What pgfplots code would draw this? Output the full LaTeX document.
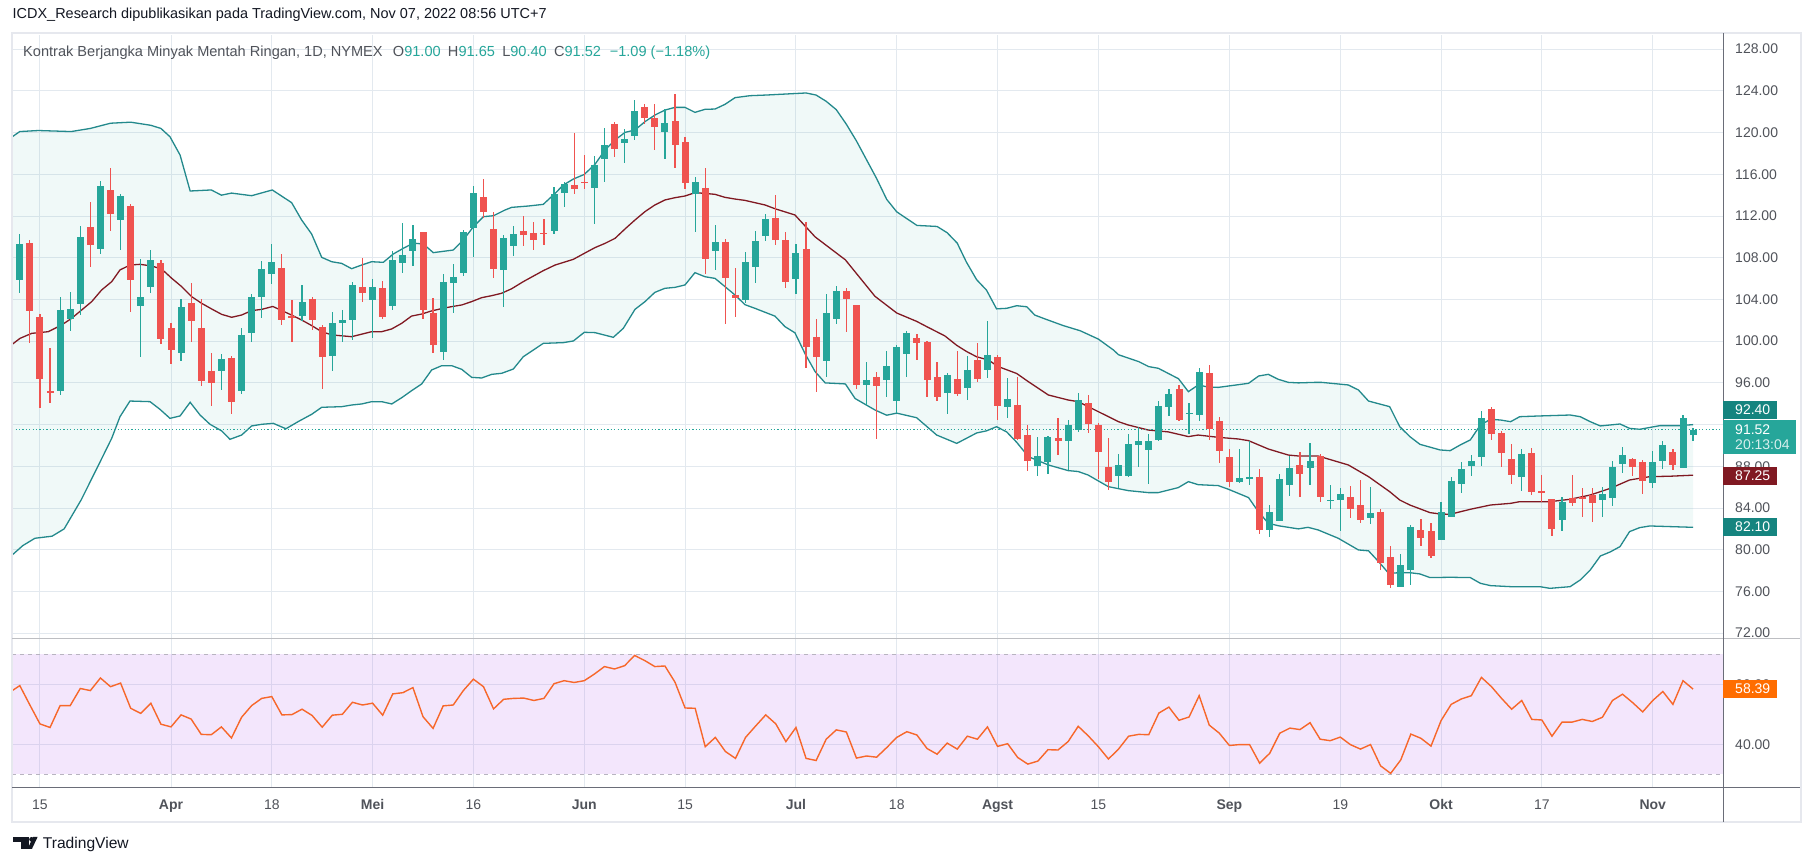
\documentclass[border=0pt]{standalone}
\usepackage{fontspec}
\setmainfont{Liberation Sans}
\usepackage{graphicx}
\usepackage{pgfplots}
\usepackage{pgfplotstable}
\pgfplotsset{compat=1.18}

\definecolor{cup}{HTML}{26A69A}
\definecolor{cdn}{HTML}{EF5350}
\definecolor{bandline}{HTML}{23898C}
\definecolor{basis}{HTML}{801922}
\definecolor{gridc}{HTML}{E3E9EF}
\definecolor{rsiline}{HTML}{F7672A}
\definecolor{rsifill}{RGB}{175,88,235}
\definecolor{txt}{HTML}{131722}
\definecolor{axtxt}{HTML}{50535A}
\definecolor{darkteal}{HTML}{15847F}
\definecolor{frame}{HTML}{E6E8EE}
\definecolor{sep}{HTML}{6A6D78}
\definecolor{dashc}{HTML}{B8B4C0}
\definecolor{orangebox}{HTML}{FF6D00}

\pgfplotstableread{
i O H L C
0 105.9 110.3 104.6 109.3
4 95.26 104.2 94.8 103.0
5 102.1 104.7 101.0 103.1
6 103.6 111.0 102.5 110.0
8 108.8 115.4 108.4 114.9
10 111.65 114.1 108.7 113.9
12 103.4 107.9 98.5 104.2
13 105.2 108.7 104.6 107.8
16 98.9 104.0 98.1 103.3
20 97.1 98.8 95.3 98.3
22 95.2 101.3 94.9 100.6
23 100.8 104.5 99.9 104.2
24 104.2 107.7 102.2 106.9
25 106.4 109.3 105.5 107.6
28 102.45 105.4 101.9 103.8
31 98.6 102.8 97.1 101.7
32 101.7 103.0 99.9 102.0
33 102.0 105.7 100.1 105.4
35 103.98 105.96 100.34 105.2
37 103.4 108.65 103.0 107.8
38 107.53 111.3 106.5 108.3
39 108.68 111.14 107.24 109.8
42 99.0 106.4 98.2 105.7
43 105.6 107.4 102.7 106.15
44 106.57 110.66 106.28 110.47
45 110.9 114.9 108.1 114.2
48 106.86 110.2 103.3 109.89
49 109.16 111.04 108.17 110.28
53 110.6 114.8 110.3 114.1
54 114.2 115.26 112.9 115.07
57 114.72 117.75 111.27 116.89
58 117.5 120.47 115.3 118.81
60 119.03 120.34 117.11 119.38
61 119.67 123.12 119.32 122.07
64 120.09 122.26 117.5 120.92
67 114.08 115.74 110.5 115.26
69 108.68 111.14 106.86 109.5
72 103.98 108.55 103.7 107.59
73 107.15 110.56 105.6 109.6
74 110.12 112.2 109.6 111.7
77 105.99 109.32 104.56 108.46
80 98.13 104.5 96.6 102.7
81 102.16 105.3 101.6 104.8
84 95.83 98.0 93.85 96.28
86 96.31 99.06 94.68 97.62
87 94.3 99.63 93.15 99.44
88 98.8 100.98 96.6 100.8
92 95.06 96.95 93.05 96.76
94 95.54 98.58 94.4 97.24
96 97.27 101.93 96.5 98.68
98 93.72 96.47 92.67 94.46
101 88.07 90.81 87.1 88.99
102 88.42 90.9 87.3 90.81
104 90.46 92.44 87.65 91.96
105 91.48 95.03 91.29 94.36
109 87.11 89.18 85.96 88.13
110 87.11 91.1 87.0 90.14
111 90.0 91.77 87.97 90.43
112 89.6 91.1 86.34 90.43
113 90.52 94.27 90.46 93.79
114 93.72 95.42 92.86 94.94
116 93.05 94.07 91.13 93.15
117 92.95 97.43 92.34 97.05
121 86.53 89.66 86.43 86.88
122 86.85 90.43 86.24 86.95
124 81.93 84.29 81.26 83.62
125 82.79 87.27 82.79 86.79
126 86.24 88.99 85.19 87.84
128 87.84 90.27 86.24 88.51
130 84.7 86.21 83.94 84.8
131 84.77 85.92 81.83 85.35
134 83.08 86.02 82.5 83.53
137 76.47 79.6 76.47 78.54
138 78.06 82.38 76.66 82.19
141 80.97 84.58 80.97 83.62
142 83.18 86.98 83.18 86.6
143 86.34 88.42 85.48 87.75
144 88.06 89.12 87.1 88.51
145 88.93 93.31 88.06 92.64
149 87.01 89.66 85.67 89.18
153 82.89 85.06 81.83 84.58
157 84.81 86.02 83.18 85.35
158 85.0 88.51 84.23 87.94
159 88.26 89.85 87.39 89.09
162 86.44 89.47 85.96 88.42
163 88.54 90.43 87.78 90.05
165 87.87 92.96 87.87 92.64
166 91.00 91.65 90.40 91.52
}\upc

\pgfplotstableread{
i O H L C
-1 110.3 110.3 106.0 106.0
1 109.4 109.7 99.8 102.9
2 102.3 102.6 93.6 96.4
3 95.2 99.3 94.1 95.0
7 110.95 113.3 107.1 109.2
9 114.5 116.6 110.6 112.2
11 113.0 113.2 102.8 105.9
14 107.5 107.8 99.7 100.2
15 101.3 101.7 97.8 99.2
17 103.7 105.6 99.95 101.9
18 101.3 104.0 95.7 96.2
19 97.1 98.9 93.8 96.0
21 98.4 98.6 93.0 94.2
26 107.0 108.4 101.6 102.0
27 102.4 103.95 99.95 102.2
29 104.05 104.2 101.1 102.0
30 101.4 101.55 95.4 98.5
34 105.2 107.97 103.76 104.65
36 105.1 105.77 102.16 102.35
40 110.47 110.47 102.16 103.02
41 102.7 104.14 98.9 99.67
46 113.82 115.55 111.78 112.35
47 110.76 112.39 106.09 106.95
50 110.56 112.0 109.16 110.21
51 110.4 111.4 108.7 109.7
52 110.4 111.7 109.25 110.3
55 114.97 119.96 114.1 114.59
56 115.3 117.85 114.62 115.2
59 120.82 121.0 117.69 118.46
62 122.45 122.74 120.85 121.43
63 121.4 122.74 118.36 120.57
65 121.1 123.7 116.64 118.84
66 119.1 119.58 114.62 115.2
68 114.69 116.6 106.47 107.91
70 109.5 109.8 101.6 106.09
71 104.43 107.05 102.35 104.17
75 111.8 114.0 109.25 109.73
76 109.7 110.47 105.13 105.7
78 108.84 111.43 97.46 99.47
79 100.4 102.1 95.16 98.5
82 104.8 105.1 100.9 104.08
83 103.47 103.47 95.45 95.83
85 96.57 97.05 90.65 95.73
89 100.3 100.7 98.23 99.86
90 99.92 100.02 94.68 96.31
91 96.57 98.0 94.3 94.68
93 96.38 99.06 94.78 94.97
95 98.2 99.8 96.12 96.4
97 98.5 98.68 92.48 93.8
99 93.88 96.57 90.56 90.65
100 91.0 91.96 87.58 88.54
103 90.72 92.63 89.12 90.46
106 94.07 94.84 91.23 92.06
107 91.96 92.15 86.82 89.4
108 87.94 90.72 85.76 86.53
115 95.42 95.8 92.34 92.44
118 96.95 97.72 90.56 91.58
119 92.34 92.73 88.35 89.5
120 88.9 89.66 86.05 86.53
123 86.98 87.74 81.55 81.93
127 88.13 89.38 85.09 87.3
129 88.99 89.18 84.61 85.09
132 85.06 86.1 83.08 83.94
133 84.29 86.69 82.57 82.89
135 83.62 83.91 78.1 78.76
136 79.31 80.36 76.37 76.66
139 81.9 82.95 80.39 81.16
140 81.8 82.57 79.24 79.43
146 93.5 93.69 90.53 91.13
147 91.2 91.39 87.97 89.31
148 88.7 90.14 86.34 87.2
150 89.28 89.76 85.29 85.57
151 85.63 87.17 84.61 85.48
152 84.87 84.87 81.35 82.03
154 84.97 87.17 84.23 84.52
155 85.0 85.92 83.18 84.95
156 85.29 85.92 82.7 84.52
160 88.7 88.8 87.1 87.9
161 88.42 88.61 85.38 86.56
164 89.38 89.66 87.68 88.16
}\dnc

\pgfplotstableread{
x y
-0.75 119.6
0 120.1
1.84 120.2
5.1 120.1
7 120.4
9 120.9
11 121.0
13 120.7
14 120.4
14.9 119.6
15.9 117.85
16.9 114.4
19.0 114.5
20.0 114.0
21.0 114.2
23.0 113.95
25.05 114.5
26.97 113.28
27.96 111.62
28.95 110.28
29.95 108.04
30.94 107.62
31.93 107.46
32.92 106.95
33.91 107.3
34.9 107.62
36.06 107.56
37.05 108.36
38.04 108.9
39.03 109.4
40.03 109.32
41.02 108.49
43.0 108.74
44.0 109.7
45.0 110.98
46.0 111.94
47.0 112.03
48.14 112.58
48.79 112.83
50.44 112.96
51.93 113.12
53.1 114.17
53.92 114.97
54.92 115.55
56.0 115.99
57.06 116.96
58.06 118.33
59.05 119.29
60.04 120.02
61.03 120.25
62.02 121.05
63.0 121.68
64.0 122.16
65.0 122.42
65.99 122.42
66.98 121.94
67.97 122.23
68.97 122.26
69.96 122.71
70.95 123.35
72.45 123.54
74 123.6
76 123.7
78 123.8
79 123.6
80 123.0
81 122.2
82 120.8
83 119.2
84 117.4
85 115.6
86 113.6
87.0 112.4
89.0 111.1
91.0 111.0
92.0 110.4
93.0 109.4
93.9 107.6
94.92 105.9
95.9 104.9
96.9 103.1
97.9 103.15
98.9 103.4
99.9 103.3
100.7 102.5
101.8 102.1
103.5 101.5
105.2 101.0
107 100.2
108.5 99.15
109.0 98.7
111.0 98.04
112.0 97.56
112.95 97.4
114.95 96.4
115.93 95.16
116.9 95.8
117.9 95.6
118.9 95.57
119.9 95.7
121.9 95.96
122.9 96.66
123.86 96.82
124.86 96.34
125.85 96.05
126.84 96.0
128.5 96.05
129.15 96.05
131.8 95.8
132.8 95.32
133.8 94.26
135.9 93.72
136.9 91.8
137.9 90.85
138.9 90.11
140.9 89.57
141.9 89.5
142.9 90.05
143.9 90.53
144.9 91.96
145.9 92.51
146.9 92.44
147.9 92.28
148.8 92.76
150.8 92.83
153.8 92.92
154.8 92.76
155.8 92.28
156.8 91.87
158.75 92.06
159.7 91.64
160.7 91.55
162.7 91.9
164.7 91.9
166 92.0
}\bbup

\pgfplotstableread{
x y
-0.75 99.7
0.02 100.27
1.18 100.75
2.83 100.91
4.15 101.55
5.14 102.19
7.13 103.79
8.12 104.91
9.12 105.71
9.94 106.83
10.93 107.3
11.93 107.37
13.08 107.21
14.07 106.92
15.07 106.03
16.06 105.23
17.05 104.27
18.04 103.63
19.03 103.09
20.03 102.57
21.02 102.29
22.01 102.51
23.0 102.93
24.0 103.05
25.1 103.33
26.97 102.5
27.96 102.03
28.95 101.5
29.95 100.91
30.94 100.6
32.92 100.43
34.9 100.91
35.9 100.91
36.89 101.17
37.88 101.71
38.87 102.41
39.86 102.6
40.85 102.9
41.84 103.12
42.83 103.31
43.83 103.47
44.82 103.79
45.81 104.17
46.8 104.36
47.79 104.59
48.8 105.03
49.95 105.71
51.93 106.76
53.1 107.3
54.92 107.85
56.0 108.42
57.06 108.97
58.06 109.38
59.05 109.86
60.04 110.76
61.03 111.62
62.02 112.42
63.0 113.06
64.0 113.54
65.0 113.76
65.99 113.92
66.98 114.24
67.97 114.17
68.97 114.08
69.96 113.79
70.95 113.63
71.94 113.5
73.93 113.06
74.92 112.7
76.9 112.1
78.9 110.0
81.9 107.8
84.84 104.3
87.0 102.7
88.97 101.9
89.96 101.4
91.78 100.5
92.95 99.6
93.94 99.0
94.93 98.5
96.08 98.2
97.08 97.56
98.9 96.9
100.05 96.12
102.04 94.84
104.0 94.36
105.0 94.2
107.0 93.24
109.0 92.28
109.97 91.96
111.95 91.48
113.94 91.3
115.93 90.85
116.9 91.0
118.9 90.78
120.9 90.62
121.9 90.46
123.86 89.66
125.85 89.08
126.84 88.99
128.8 88.99
131.8 88.13
133.8 87.01
135.9 85.57
136.9 84.77
137.9 84.29
139.9 83.56
140.9 83.43
141.9 83.4
143.9 83.88
145.9 84.29
147.9 84.45
148.8 84.61
151.8 84.61
153.8 84.84
155.8 85.25
157.8 85.89
159.7 86.69
161.7 87.01
163.7 87.05
166 87.15
}\bbmid

\pgfplotstableread{
x y
-0.75 79.5
0.3 80.4
1.5 81.1
3.2 81.3
4.4 82.0
6.1 84.8
7.8 88.1
9.12 90.69
9.94 92.76
10.93 94.26
12.92 94.2
13.9 93.47
14.9 92.6
15.9 92.83
16.9 94.14
17.88 92.92
18.87 92.03
20.03 91.39
20.85 90.59
22.01 91.0
23.0 91.87
24.0 92.03
25.15 92.12
26.4 91.6
27.64 92.3
28.96 92.99
29.95 93.66
31.94 93.72
32.93 93.88
33.92 93.98
34.91 94.2
35.9 94.2
36.9 93.98
37.89 94.58
38.88 95.26
39.87 95.9
40.86 97.24
41.86 97.65
42.85 97.65
43.84 97.3
44.83 96.53
45.82 96.47
46.82 96.82
47.81 96.92
48.96 97.33
49.95 98.51
51.93 99.79
53.92 99.86
54.92 100.02
56.0 100.85
57.06 100.82
58.88 100.37
59.87 101.23
61.03 103.05
62.02 103.79
63.0 104.68
64.0 105.07
65.0 105.16
65.99 105.39
66.98 106.57
67.97 106.18
68.97 106.02
69.96 105.23
70.95 104.43
71.94 103.5
72.93 103.15
74.92 102.4
75.9 101.4
76.9 100.8
77.9 98.8
78.9 97.08
79.9 96.0
81.9 95.9
82.87 94.5
84.84 93.4
86.0 92.9
87.0 93.1
88.97 92.66
90.96 91.0
92.95 90.2
94.93 91.2
95.9 91.4
96.9 91.8
97.9 91.3
98.9 90.3
100.05 88.93
102.04 88.13
104.0 87.59
105.0 87.5
105.97 87.17
107.99 86.05
109.97 85.67
111.95 85.48
112.95 85.48
114.93 85.96
115.93 86.53
116.9 86.24
118.9 86.15
119.9 85.8
121.9 85.0
122.87 83.65
123.86 82.54
124.86 82.3
126.84 82.0
127.8 82.15
128.8 81.9
130.8 81.1
132.8 79.98
133.8 79.9
134.8 78.86
135.8 77.74
136.9 77.8
137.9 77.8
138.9 77.68
139.9 77.33
141.9 77.36
143.9 77.33
144.9 76.78
145.9 76.56
147.9 76.46
150.8 76.46
151.8 76.3
153.8 76.46
154.8 77.1
155.8 78.06
156.8 79.4
157.8 79.8
158.75 80.3
159.7 81.74
160.7 82.12
161.7 82.28
163.7 82.22
166 82.15
}\bblo

% band area: upper band left to right, then lower band right to left
\pgfplotstableread{
x y
-0.75 119.6
0 120.1
1.84 120.2
5.1 120.1
7 120.4
9 120.9
11 121.0
13 120.7
14 120.4
14.9 119.6
15.9 117.85
16.9 114.4
19.0 114.5
20.0 114.0
21.0 114.2
23.0 113.95
25.05 114.5
26.97 113.28
27.96 111.62
28.95 110.28
29.95 108.04
30.94 107.62
31.93 107.46
32.92 106.95
33.91 107.3
34.9 107.62
36.06 107.56
37.05 108.36
38.04 108.9
39.03 109.4
40.03 109.32
41.02 108.49
43.0 108.74
44.0 109.7
45.0 110.98
46.0 111.94
47.0 112.03
48.14 112.58
48.79 112.83
50.44 112.96
51.93 113.12
53.1 114.17
53.92 114.97
54.92 115.55
56.0 115.99
57.06 116.96
58.06 118.33
59.05 119.29
60.04 120.02
61.03 120.25
62.02 121.05
63.0 121.68
64.0 122.16
65.0 122.42
65.99 122.42
66.98 121.94
67.97 122.23
68.97 122.26
69.96 122.71
70.95 123.35
72.45 123.54
74 123.6
76 123.7
78 123.8
79 123.6
80 123.0
81 122.2
82 120.8
83 119.2
84 117.4
85 115.6
86 113.6
87.0 112.4
89.0 111.1
91.0 111.0
92.0 110.4
93.0 109.4
93.9 107.6
94.92 105.9
95.9 104.9
96.9 103.1
97.9 103.15
98.9 103.4
99.9 103.3
100.7 102.5
101.8 102.1
103.5 101.5
105.2 101.0
107 100.2
108.5 99.15
109.0 98.7
111.0 98.04
112.0 97.56
112.95 97.4
114.95 96.4
115.93 95.16
116.9 95.8
117.9 95.6
118.9 95.57
119.9 95.7
121.9 95.96
122.9 96.66
123.86 96.82
124.86 96.34
125.85 96.05
126.84 96.0
128.5 96.05
129.15 96.05
131.8 95.8
132.8 95.32
133.8 94.26
135.9 93.72
136.9 91.8
137.9 90.85
138.9 90.11
140.9 89.57
141.9 89.5
142.9 90.05
143.9 90.53
144.9 91.96
145.9 92.51
146.9 92.44
147.9 92.28
148.8 92.76
150.8 92.83
153.8 92.92
154.8 92.76
155.8 92.28
156.8 91.87
158.75 92.06
159.7 91.64
160.7 91.55
162.7 91.9
164.7 91.9
166 92.0
166 82.15
163.7 82.22
161.7 82.28
160.7 82.12
159.7 81.74
158.75 80.3
157.8 79.8
156.8 79.4
155.8 78.06
154.8 77.1
153.8 76.46
151.8 76.3
150.8 76.46
147.9 76.46
145.9 76.56
144.9 76.78
143.9 77.33
141.9 77.36
139.9 77.33
138.9 77.68
137.9 77.8
136.9 77.8
135.8 77.74
134.8 78.86
133.8 79.9
132.8 79.98
130.8 81.1
128.8 81.9
127.8 82.15
126.84 82.0
124.86 82.3
123.86 82.54
122.87 83.65
121.9 85.0
119.9 85.8
118.9 86.15
116.9 86.24
115.93 86.53
114.93 85.96
112.95 85.48
111.95 85.48
109.97 85.67
107.99 86.05
105.97 87.17
105.0 87.5
104.0 87.59
102.04 88.13
100.05 88.93
98.9 90.3
97.9 91.3
96.9 91.8
95.9 91.4
94.93 91.2
92.95 90.2
90.96 91.0
88.97 92.66
87.0 93.1
86.0 92.9
84.84 93.4
82.87 94.5
81.9 95.9
79.9 96.0
78.9 97.08
77.9 98.8
76.9 100.8
75.9 101.4
74.92 102.4
72.93 103.15
71.94 103.5
70.95 104.43
69.96 105.23
68.97 106.02
67.97 106.18
66.98 106.57
65.99 105.39
65.0 105.16
64.0 105.07
63.0 104.68
62.02 103.79
61.03 103.05
59.87 101.23
58.88 100.37
57.06 100.82
56.0 100.85
54.92 100.02
53.92 99.86
51.93 99.79
49.95 98.51
48.96 97.33
47.81 96.92
46.82 96.82
45.82 96.47
44.83 96.53
43.84 97.3
42.85 97.65
41.86 97.65
40.86 97.24
39.87 95.9
38.88 95.26
37.89 94.58
36.9 93.98
35.9 94.2
34.91 94.2
33.92 93.98
32.93 93.88
31.94 93.72
29.95 93.66
28.96 92.99
27.64 92.3
26.4 91.6
25.15 92.12
24.0 92.03
23.0 91.87
22.01 91.0
20.85 90.59
20.03 91.39
18.87 92.03
17.88 92.92
16.9 94.14
15.9 92.83
14.9 92.6
13.9 93.47
12.92 94.2
10.93 94.26
9.94 92.76
9.12 90.69
7.8 88.1
6.1 84.8
4.4 82.0
3.2 81.3
1.5 81.1
0.3 80.4
-0.75 79.5
}\bbarea

\pgfplotstableread{
x y
-1 57.5
-0.65 58.1
0 59.56
1 53.1
2 46.8
3 45.6
4 52.9
5 52.9
6 58.6
7 57.9
8 62.1
9 59.2
10 60.4
11 52.0
12 50.3
13 53.7
14 46.7
15 45.8
16 49.8
17 48.4
18 43.3
19 43.2
20 45.8
21 42.1
22 49.0
23 52.9
24 55.3
25 55.9
26 49.8
27 49.9
28 51.7
29 49.6
30 45.7
31 49.7
32 50.0
33 54.0
34 53.1
35 53.7
36 49.7
37 56.8
38 57.2
39 58.9
40 49.2
41 45.3
42 52.8
43 53.1
44 57.9
45 61.7
46 59.2
47 51.8
48 55.0
49 55.3
50 55.4
51 54.6
52 55.3
53 60.2
54 61.2
55 60.6
56 61.2
57 63.4
58 65.9
59 65.1
60 66.2
61 69.6
62 67.9
63 65.9
64 66.1
65 60.7
66 52.1
67 52.0
68 39.2
69 42.3
70 37.6
71 35.3
72 42.3
73 46.1
74 49.8
75 46.8
76 40.9
77 45.6
78 35.3
79 34.6
80 41.7
81 44.8
82 44.1
83 35.4
84 36.1
85 35.7
86 38.9
87 42.3
88 44.2
89 43.1
90 38.6
91 36.7
92 40.4
93 38.4
94 42.7
95 41.7
96 45.8
97 39.3
98 40.2
99 35.6
100 33.4
101 34.4
102 38.2
103 38.1
104 40.9
105 46.0
106 42.8
107 39.2
108 35.1
109 38.4
110 42.7
111 43.3
112 43.2
113 50.4
114 52.4
115 48.0
116 49.1
117 56.2
118 46.4
119 43.7
120 39.6
121 39.9
122 39.9
123 33.7
124 37.0
125 43.7
126 45.4
127 44.9
128 47.2
129 41.7
130 41.2
131 42.4
132 39.9
133 38.4
134 39.9
135 32.8
136 30.3
137 34.8
138 43.4
139 42.0
140 39.4
141 47.9
142 53.3
143 55.1
144 56.2
145 62.3
146 59.2
147 55.3
148 51.7
149 54.6
150 48.3
151 48.1
152 42.7
153 47.4
154 47.4
155 48.3
156 47.6
157 49.0
158 54.6
159 56.7
160 53.9
161 50.8
162 54.6
163 57.6
164 53.3
165 61.2
166 58.39
}\rsi

\pgfplotsset{
  tvaxis/.style={
    scale only axis, width=1711pt,
    xmin=-0.744, xmax=169.0,
    axis line style={draw=none},
    major tick length=0pt,
    grid=major,
    major grid style={draw=gridc, line width=1pt},
    xtick={2,15,25,35,45,56,66,77,87,97,107,120,131,141,151,162},
    yticklabel pos=right,
    yticklabel style={anchor=west, inner sep=0pt, xshift=11.7pt,
      font=\fontsize{14}{16}\selectfont, text=axtxt},
    clip=true,
  },
  wick/.style={draw=none, no markers, forget plot,
    error bars/.cd, y dir=both, y explicit, error mark=none,
    error bar style={line width=1.2pt, draw=#1, solid}},
  body/.style={draw=none, no markers, forget plot,
    error bars/.cd, y dir=both, y explicit, error mark=none,
    error bar style={line width=7pt, draw=#1, solid}},
}

\begin{document}
\begin{tikzpicture}[x=1pt,y=1pt]
\fill[white] (0,0) rectangle (1813,866);

% ---------------- main price pane ----------------
\begin{axis}[tvaxis,
  at={(12.3pt,227.7pt)}, anchor=south west,
  height=603.3pt, ymin=71.51, ymax=129.36,
  xticklabels={},
  ytick={72,76,80,84,88,92,96,100,104,108,112,116,120,124,128},
  yticklabels={72.00,76.00,80.00,84.00,88.00,{},96.00,100.00,104.00,108.00,112.00,116.00,120.00,124.00,128.00},
]
\addplot[fill=cup, fill opacity=0.065, draw=none, forget plot] table {\bbarea};
\addplot[bandline, line width=1.3pt, forget plot] table {\bbup};
\addplot[bandline, line width=1.3pt, forget plot] table {\bblo};
\addplot[basis, line width=1.3pt, forget plot] table {\bbmid};
\addplot[cup, line width=1pt, dash pattern=on 1.2pt off 2.2pt, forget plot] coordinates {(-0.744,91.52) (169,91.52)};

\addplot[wick=cdn] table[x=i, y expr={(\thisrow{H}+\thisrow{L})/2}, y error expr={(\thisrow{H}-\thisrow{L})/2}] {\dnc};
\addplot[body=cdn] table[x=i, y expr={(\thisrow{O}+\thisrow{C})/2}, y error expr={max(abs(\thisrow{C}-\thisrow{O})/2,0.06)}] {\dnc};
\addplot[wick=cup] table[x=i, y expr={(\thisrow{H}+\thisrow{L})/2}, y error expr={(\thisrow{H}-\thisrow{L})/2}] {\upc};
\addplot[body=cup] table[x=i, y expr={(\thisrow{O}+\thisrow{C})/2}, y error expr={max(abs(\thisrow{C}-\thisrow{O})/2,0.06)}] {\upc};
\end{axis}

% ---------------- RSI pane ----------------
\begin{axis}[tvaxis,
  at={(12.3pt,78.7pt)}, anchor=south west,
  height=149pt, ymin=25.67, ymax=75.33,
  ytick={40,60}, yticklabels={40.00,60.00},
  xticklabels={15,\textbf{Apr},18,\textbf{Mei},16,\textbf{Jun},15,\textbf{Jul},18,\textbf{Agst},15,\textbf{Sep},19,\textbf{Okt},17,\textbf{Nov}},
  xticklabel style={anchor=base, inner sep=0pt, yshift=-22.7pt,
    font=\fontsize{14}{16}\selectfont, text=axtxt},
]
\addplot[draw=none, fill=rsifill, fill opacity=0.15, forget plot] coordinates {(-0.744,30) (169,30) (169,70) (-0.744,70)};
\addplot[dashc, line width=1pt, dash pattern=on 4pt off 4pt, forget plot] coordinates {(-0.744,70) (169,70)};
\addplot[dashc, line width=1pt, dash pattern=on 4pt off 4pt, forget plot] coordinates {(-0.744,30) (169,30)};
\addplot[rsiline, line width=1.4pt, forget plot] table {\rsi};
\end{axis}

% ---------------- frame / separators ----------------
\draw[frame, line width=2pt] (11.5,833) rectangle (1800.5,44.3);
\draw[frame!60!gray, line width=1pt] (12,227.7) -- (1800,227.7);
\draw[sep, line width=1pt] (12,78.7) -- (1800,78.7);
\draw[sep, line width=1pt] (1723.3,833) -- (1723.3,44.3);

% ---------------- price-scale labels ----------------
\fill[darkteal] (1723.3,465) rectangle (1776.7,447);
\node[anchor=west, inner sep=0pt, text=white, font=\fontsize{14}{16}\selectfont] at (1735,456) {92.40};
\fill[cup] (1723.3,446) rectangle (1796,412);
\node[anchor=west, inner sep=0pt, text=white, font=\fontsize{14}{16}\selectfont] at (1735,436.5) {91.52};
\node[anchor=west, inner sep=0pt, text=white!82!cup, font=\fontsize{14}{16}\selectfont] at (1735,421) {20:13:04};
\fill[basis] (1723.3,399) rectangle (1776.7,381);
\node[anchor=west, inner sep=0pt, text=white, font=\fontsize{14}{16}\selectfont] at (1735,390) {87.25};
\fill[darkteal] (1723.3,348) rectangle (1776.7,330);
\node[anchor=west, inner sep=0pt, text=white, font=\fontsize{14}{16}\selectfont] at (1735,339) {82.10};
\fill[orangebox] (1723.3,186) rectangle (1776.7,168);
\node[anchor=west, inner sep=0pt, text=white, font=\fontsize{14}{16}\selectfont] at (1735,177) {58.39};

% ---------------- header texts ----------------
\node[anchor=west, inner sep=0pt, text=txt] at (12.5,851) {\resizebox{534pt}{!}{ICDX\_Research dipublikasikan pada TradingView.com, Nov 07, 2022 08:56 UTC+7}};
\node[anchor=west, inner sep=0pt, text=axtxt] at (23,813) {\resizebox{687pt}{!}{Kontrak Berjangka Minyak Mentah Ringan, 1D, NYMEX\hspace{0.7em}O\textcolor{cup}{91.00}\hspace{0.5em}H\textcolor{cup}{91.65}\hspace{0.5em}L\textcolor{cup}{90.40}\hspace{0.5em}C\textcolor{cup}{91.52}\hspace{0.6em}\textcolor{cup}{−1.09 (−1.18\%)}}};

% ---------------- TradingView logo ----------------
\fill[txt] (12.7,29) rectangle (29.3,24);
\fill[txt] (21,24) rectangle (29.3,17);
\fill[txt] (31.6,26.6) circle (2.4);
\fill[txt] (27.5,17) -- (33.2,29) -- (37.6,29) -- (31.9,17) -- cycle;
\node[anchor=west, inner sep=0pt, text=txt, font=\fontsize{15.6}{17}\selectfont] at (42.7,22) {TradingView};
\end{tikzpicture}
\end{document}
